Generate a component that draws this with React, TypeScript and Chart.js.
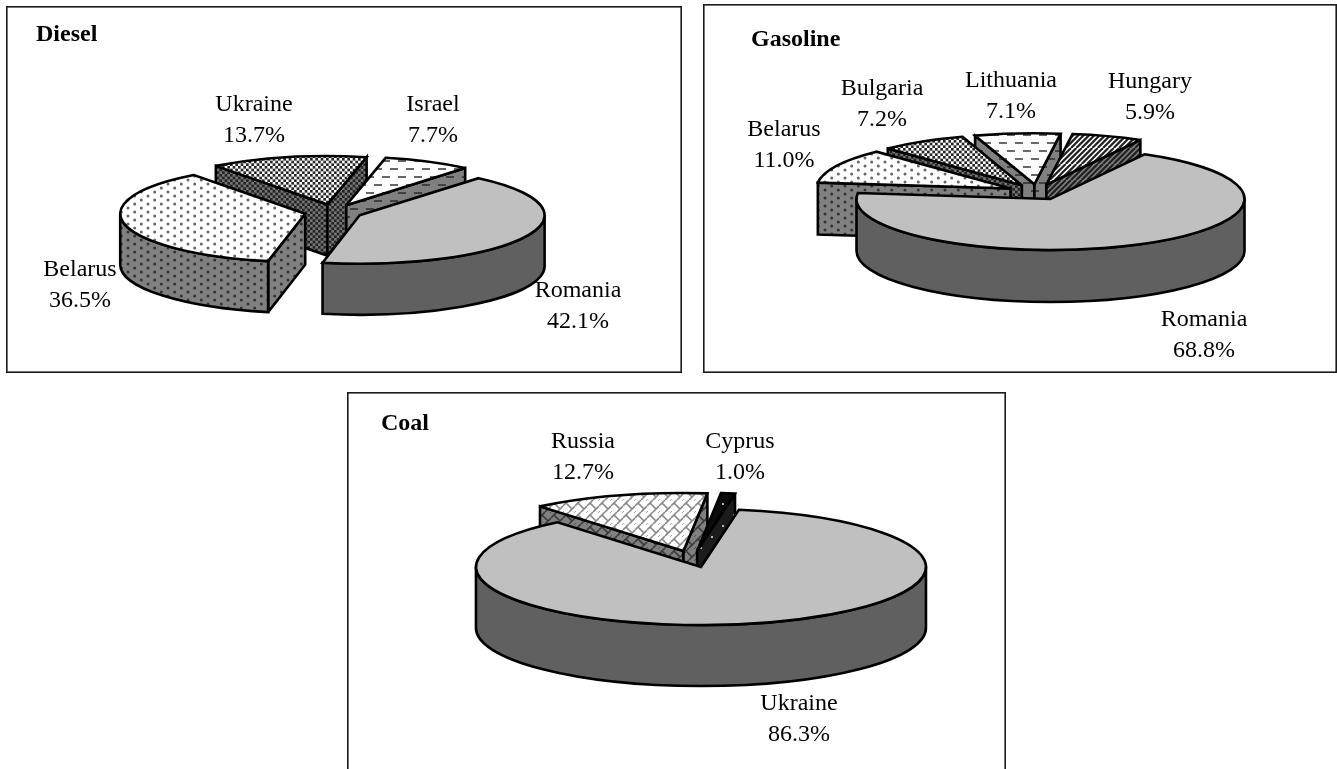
import React, { useEffect, useRef } from "react";
import { Chart, registerables } from "chart.js";

Chart.register(...registerables);

// Import shares by origin, clockwise from the first slice.
const dieselCountries = ["Romania", "Belarus", "Ukraine", "Israel"];
const dieselShares = [42.1, 36.5, 13.7, 7.7];
const gasolineCountries = ["Romania", "Belarus", "Bulgaria", "Lithuania", "Hungary"];
const gasolineShares = [68.8, 11.0, 7.2, 7.1, 5.9];
const coalCountries = ["Ukraine", "Russia", "Cyprus"];
const coalShares = [86.3, 12.7, 1.0];

type Paint = (g: CanvasRenderingContext2D, size: number) => void;

function tile(ctx: CanvasRenderingContext2D, size: number, bg: string, paint: Paint) {
  const c = document.createElement("canvas");
  c.width = c.height = size;
  const g = c.getContext("2d")!;
  g.fillStyle = bg;
  g.fillRect(0, 0, size, size);
  paint(g, size);
  return ctx.createPattern(c, "repeat")!;
}

const dots = (
  ctx: CanvasRenderingContext2D,
  bg: string,
  fg: string,
  size = 40,
  nx = 3,
  ny = 5,
  r = 1.5,
) =>
  tile(ctx, size, bg, (g) => {
    g.fillStyle = fg;
    const px = size / nx;
    const py = size / ny;
    for (let i = 0; i < nx; i++) {
      for (let j = 0; j < ny; j++) {
        for (const [sx, sy] of [
          [0, 0],
          [px / 2, py / 2],
        ]) {
          g.beginPath();
          g.arc(i * px + sx + 2, j * py + sy + 2, r, 0, Math.PI * 2);
          g.fill();
        }
      }
    }
  });

const checks = (ctx: CanvasRenderingContext2D, bg: string, fg: string) =>
  tile(ctx, 16, bg, (g) => {
    g.fillStyle = fg;
    const cell = 16 / 6;
    for (let r = 0; r < 6; r++) {
      for (let c = 0; c < 6; c++) {
        if ((r + c) % 2) g.fillRect(c * cell, r * cell, cell, cell);
      }
    }
  });

const dashes = (ctx: CanvasRenderingContext2D, bg: string, fg: string) =>
  tile(ctx, 16, bg, (g) => {
    g.fillStyle = fg;
    g.fillRect(0, 2, 8, 2);
    g.fillRect(8, 10, 8, 2);
  });

const stripes = (ctx: CanvasRenderingContext2D, bg: string, fg: string) =>
  tile(ctx, 16, bg, (g) => {
    g.strokeStyle = fg;
    g.lineWidth = 2.2;
    for (let x = -32; x <= 32; x += 16 / 3) {
      g.beginPath();
      g.moveTo(x, 16);
      g.lineTo(x + 16, 0);
      g.stroke();
    }
  });

// Diagonal running bond: long rising strokes joined by falling ones.
const weave = (ctx: CanvasRenderingContext2D, bg: string, fg: string) =>
  tile(ctx, 12, bg, (g) => {
    g.strokeStyle = fg;
    g.lineWidth = 1.7;
    const segs = [
      [0, 6, 6, 0],
      [6, 12, 12, 6],
      [3, 3, 9, 9],
      [9, -3, 15, 3],
      [-3, 9, 3, 15],
    ];
    for (const [a, b, c, d] of segs) {
      g.beginPath();
      g.moveTo(a, b);
      g.lineTo(c, d);
      g.stroke();
    }
  });

type Fill = (ctx: CanvasRenderingContext2D) => { top: string | CanvasPattern; wall: string | CanvasPattern };

const solidGray: Fill = () => ({ top: "#c0c0c0", wall: "#606060" });
const dotted: Fill = (c) => ({ top: dots(c, "#ffffff", "#666666"), wall: dots(c, "#808080", "#333333") });
const checked: Fill = (c) => ({ top: checks(c, "#ffffff", "#262626"), wall: checks(c, "#777777", "#222222") });
const dashed: Fill = (c) => ({ top: dashes(c, "#ffffff", "#666666"), wall: dashes(c, "#808080", "#404040") });
const striped: Fill = (c) => ({ top: stripes(c, "#ffffff", "#202020"), wall: stripes(c, "#808080", "#202020") });
const woven: Fill = (c) => ({ top: weave(c, "#ffffff", "#8a8a8a"), wall: weave(c, "#808080", "#3a3a3a") });
const speckled: Fill = (c) => ({
  top: dots(c, "#0c0c0c", "#ffffff", 44, 2, 2, 0.9),
  wall: dots(c, "#1c1c1c", "#ffffff", 44, 2, 2, 0.9),
});

type PanelSpec = {
  title: string;
  titleAt: [number, number];
  countries: string[];
  shares: number[];
  fills: Fill[];
  box: { left: number; top: number; width: number; height: number };
  centre: [number, number];
  radius: number;
  tilt: number;
  depth: number;
  explode: number;
  rotation: number;
  order: number[];
  labelAt: [number, number][];
};

const panels: PanelSpec[] = [
  {
    title: "Diesel",
    titleAt: [36, 35],
    countries: dieselCountries,
    shares: dieselShares,
    fills: [solidGray, dotted, checked, dashed],
    box: { left: 6, top: 6, width: 676, height: 367 },
    centre: [333.5, 212],
    radius: 185,
    tilt: 0.262,
    depth: 51,
    explode: 29,
    rotation: 40,
    order: [2, 3, 1, 0],
    labelAt: [
      [578, 291],
      [80, 270],
      [254, 105],
      [433, 105],
    ],
  },
  {
    title: "Gasoline",
    titleAt: [751, 40],
    countries: gasolineCountries,
    shares: gasolineShares,
    fills: [solidGray, dotted, checked, dashed, striped],
    box: { left: 703, top: 4, width: 634, height: 369 },
    centre: [1037, 192],
    radius: 194,
    tilt: 0.263,
    depth: 52,
    explode: 29.6,
    rotation: 29,
    order: [3, 4, 2, 1, 0],
    labelAt: [
      [1204, 320],
      [784, 130],
      [882, 89],
      [1011, 81],
      [1150, 82],
    ],
  },
  {
    title: "Coal",
    titleAt: [381, 424],
    countries: coalCountries,
    shares: coalShares,
    fills: [solidGray, woven, speckled],
    box: { left: 347, top: 392, width: 659, height: 400 },
    centre: [692.7, 559],
    radius: 225,
    tilt: 0.258,
    depth: 61,
    explode: 32,
    rotation: 9.7,
    order: [1, 2, 0],
    labelAt: [
      [799, 704],
      [583, 442],
      [740, 442],
    ],
  },
];

const LABEL_FONT = '24px "Liberation Serif", "Times New Roman", serif';
const TITLE_FONT = 'bold 24px "Liberation Serif", "Times New Roman", serif';
const LINE_GAP = 30.5;

// Draws the pie as an extruded, tilted disc from the arc elements the controller laid out.
function tiltedPiePlugin(spec: PanelSpec, walls: (string | CanvasPattern)[]) {
  return {
    id: "tiltedPie",
    beforeDatasetsDraw(chart: any) {
      const ctx: CanvasRenderingContext2D = chart.ctx;
      const arcs = chart.getDatasetMeta(0).data;
      const { left, top } = spec.box;

      ctx.save();
      ctx.lineWidth = 2.6;
      ctx.strokeStyle = "#000000";
      ctx.lineJoin = "miter";
      ctx.miterLimit = 3;

      for (const i of spec.order) {
        const arc = arcs[i];
        const { x, y, startAngle, endAngle, outerRadius: R } = arc;
        const d = arc.options.offset;
        const mid = (startAngle + endAngle) / 2;
        const ox = x + d * Math.cos(mid);
        const oy = y + d * spec.tilt * Math.sin(mid);
        const b = R * spec.tilt;
        const h = spec.depth;
        const rim = (a: number): [number, number] => [ox + R * Math.cos(a), oy + b * Math.sin(a)];

        const cutFace = (a: number) => {
          const [rx, ry] = rim(a);
          ctx.beginPath();
          ctx.moveTo(ox, oy);
          ctx.lineTo(rx, ry);
          ctx.lineTo(rx, ry + h);
          ctx.lineTo(ox, oy + h);
          ctx.closePath();
          ctx.fillStyle = walls[i];
          ctx.fill();
          ctx.stroke();
        };
        if (Math.cos(startAngle) < 0) cutFace(startAngle);
        if (Math.cos(endAngle) > 0) cutFace(endAngle);

        // Outer wall: only the part of the rim on the near half of the disc.
        for (let k = -1; k <= 2; k++) {
          const lo = Math.max(startAngle, 2 * Math.PI * k);
          const hi = Math.min(endAngle, Math.PI + 2 * Math.PI * k);
          if (lo >= hi) continue;
          ctx.beginPath();
          ctx.ellipse(ox, oy, R, b, 0, lo, hi);
          ctx.ellipse(ox, oy + h, R, b, 0, hi, lo, true);
          ctx.closePath();
          ctx.fillStyle = walls[i];
          ctx.fill();
          ctx.stroke();
        }

        ctx.beginPath();
        ctx.moveTo(ox, oy);
        ctx.ellipse(ox, oy, R, b, 0, startAngle, endAngle);
        ctx.closePath();
        ctx.fillStyle = arc.options.backgroundColor;
        ctx.fill();
        ctx.stroke();
      }

      // Country and share captions.
      ctx.fillStyle = "#000000";
      ctx.textAlign = "center";
      ctx.textBaseline = "middle";
      ctx.font = LABEL_FONT;
      spec.countries.forEach((name, i) => {
        const [lx, ly] = spec.labelAt[i];
        ctx.fillText(name, lx - left, ly - top);
        ctx.fillText(`${spec.shares[i].toFixed(1)}%`, lx - left, ly - top + LINE_GAP);
      });

      ctx.textAlign = "left";
      ctx.font = TITLE_FONT;
      ctx.fillText(spec.title, spec.titleAt[0] - left, spec.titleAt[1] - top);

      // Panel frame.
      ctx.strokeStyle = "#1a1a1a";
      ctx.lineWidth = 1.6;
      ctx.strokeRect(0.8, 0.8, spec.box.width - 1.6, spec.box.height - 1.6);
      ctx.restore();
      return false;
    },
  };
}

function Panel({ spec }: { spec: PanelSpec }) {
  const ref = useRef<HTMLCanvasElement>(null);

  useEffect(() => {
    const canvas = ref.current!;
    const ctx = canvas.getContext("2d")!;
    const fills = spec.fills.map((f) => f(ctx));
    const { width: W, height: H, left, top } = spec.box;
    const cx = spec.centre[0] - left;
    const cy = spec.centre[1] - top;
    const chart = new Chart(canvas, {
      type: "pie",
      data: {
        labels: spec.countries,
        datasets: [
          {
            data: spec.shares,
            backgroundColor: fills.map((f) => f.top),
            borderWidth: 0,
            offset: spec.shares.map(() => spec.explode),
          },
        ],
      },
      options: {
        responsive: false,
        animation: false,
        rotation: spec.rotation,
        radius: spec.radius,
        events: [],
        layout: {
          padding: {
            left: Math.max(0, 2 * cx - W),
            right: Math.max(0, W - 2 * cx),
            top: Math.max(0, 2 * cy - H),
            bottom: Math.max(0, H - 2 * cy),
          },
        },
        plugins: { legend: { display: false }, tooltip: { enabled: false }, title: { display: false } },
      },
      plugins: [tiltedPiePlugin(spec, fills.map((f) => f.wall))],
    } as any);
    return () => chart.destroy();
  }, [spec]);

  const { left, top, width, height } = spec.box;
  return (
    <canvas
      ref={ref}
      width={width}
      height={height}
      style={{ position: "absolute", left, top, width, height, display: "block" }}
    />
  );
}

export default function App() {
  return (
    <div style={{ position: "fixed", left: 0, top: 0, width: 1337, height: 769, overflow: "hidden", background: "#fff" }}>
      {panels.map((p) => (
        <Panel key={p.title} spec={p} />
      ))}
    </div>
  );
}
